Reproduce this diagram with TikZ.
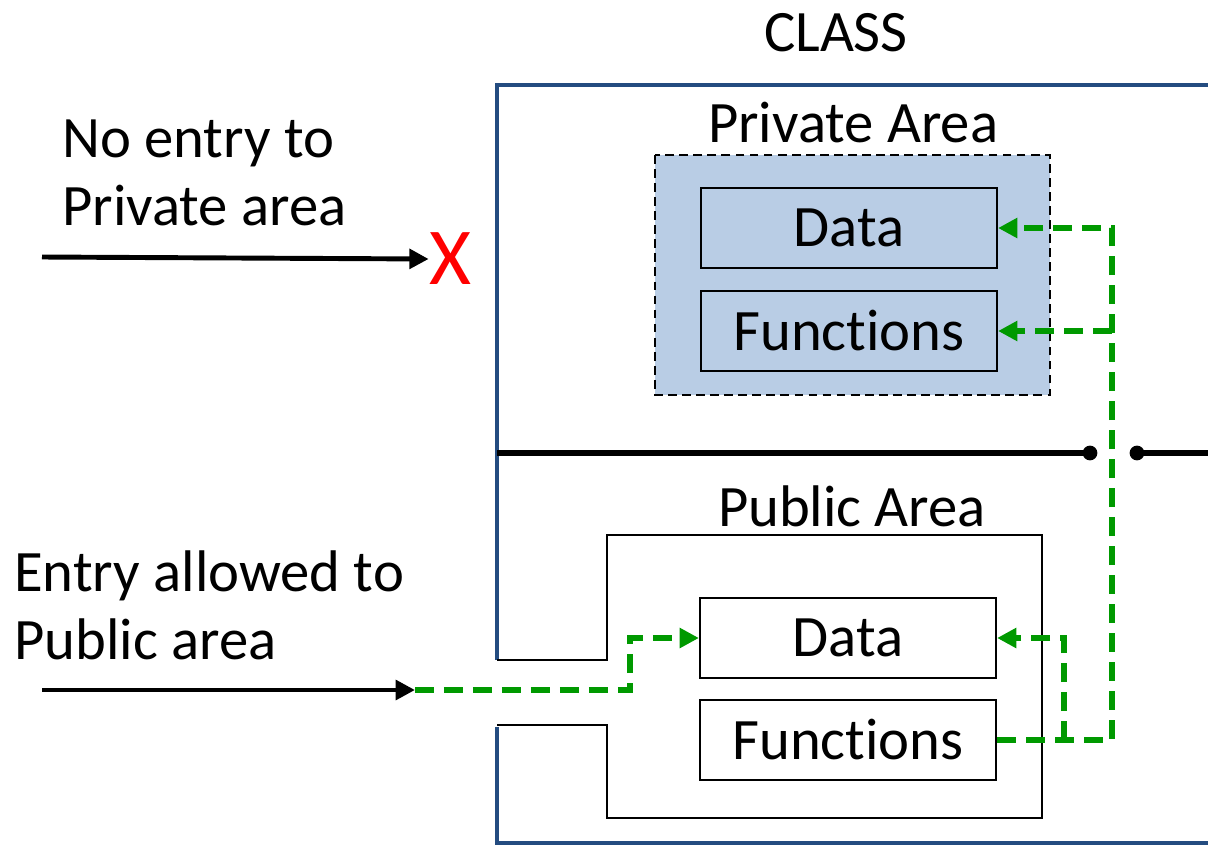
\documentclass[tikz,border=0pt]{standalone}
\usepackage{fontspec}
\setmainfont{Carlito}[Ligatures=NoCommon]
\usetikzlibrary{arrows.meta}

\definecolor{classblue}{RGB}{36,76,128}
\definecolor{areablue}{RGB}{185,205,229}
\definecolor{linkgreen}{RGB}{0,153,0}

\begin{document}
\begin{tikzpicture}[x=0.02cm,y=-0.02cm]

\tikzset{box/.style = {shape=rectangle,draw,line width=1.3pt,minimum width=5.92cm,minimum height=1.6cm,inner sep=0pt}}
\tikzset{label/.style = {inner sep=0pt}}
\tikzset{link/.style = {draw=linkgreen,line width=3pt,dash pattern=on 11pt off 5.5pt,-{Triangle[length=11pt,width=11pt]}}}
\tikzset{entry/.style = {line width=2.8pt,-{Triangle[length=11pt,width=11pt]}}}

\fontsize{33.4}{38.6}\selectfont
\useasboundingbox (0,0) rectangle (1208,846);

% class outline
\draw[classblue,line width=2.8pt] (497,660) -- (497,85) -- (1230,85);
\draw[classblue,line width=2.8pt] (497,727) -- (497,843) -- (1230,843);
\draw[line width=1.1pt] (497,660) -- (607,660) -- (607,535) -- (1042,535) -- (1042,818) -- (607,818) -- (607,725) -- (497,725);

% separator
\draw[line width=3pt] (497,453) -- (1090,453);
\draw[line width=3pt] (1137,453) -- (1230,453);
\fill (1090,453) circle (4.2pt);
\fill (1137,453) circle (4.2pt);

% private area
\draw[fill=areablue,dash pattern=on 5pt off 3pt,line width=1.1pt] (655,155) rectangle (1050,395);

\node[label] (title) at (836,33) {CLASS};
\node[label] (priv) at (853,123) {Private Area};
\node[label] (pub) at (852,506) {Public Area};

\node[box] (pdata) at (849,228) {Data};
\node[box] (pfunc) at (849,331) {Functions};
\node[box] (udata) at (848,638) {Data};
\node[box] (ufunc) at (848,740) {Functions};

\node[label,anchor=west,align=left] (notxt) at (62,173) {No entry to\\Private area};
\node[label,anchor=west,align=left] (oktxt) at (14,605) {Entry allowed to\\Public area};
\node[label,text=red,font=\fontsize{46}{50}\selectfont] (cross) at (450,259) {X};

\coordinate (noin) at (42,257);
\coordinate (okin) at (42,690);
\coordinate (gate) at (415,690);
\coordinate (bend) at (630,690);
\coordinate (bus) at (1112,740);
\coordinate (tap) at (1064,740);

\draw[entry] (noin) -- (cross.west);
\draw[entry] (okin) -- (gate);
\draw[link] (gate) -- (bend) |- (udata.west);
\draw[link] (ufunc.east) -- (bus) |- (pdata.east);
\draw[link] (bus |- pfunc.east) -- (pfunc.east);
\draw[link] (tap) |- (udata.east);

\end{tikzpicture}
\end{document}
